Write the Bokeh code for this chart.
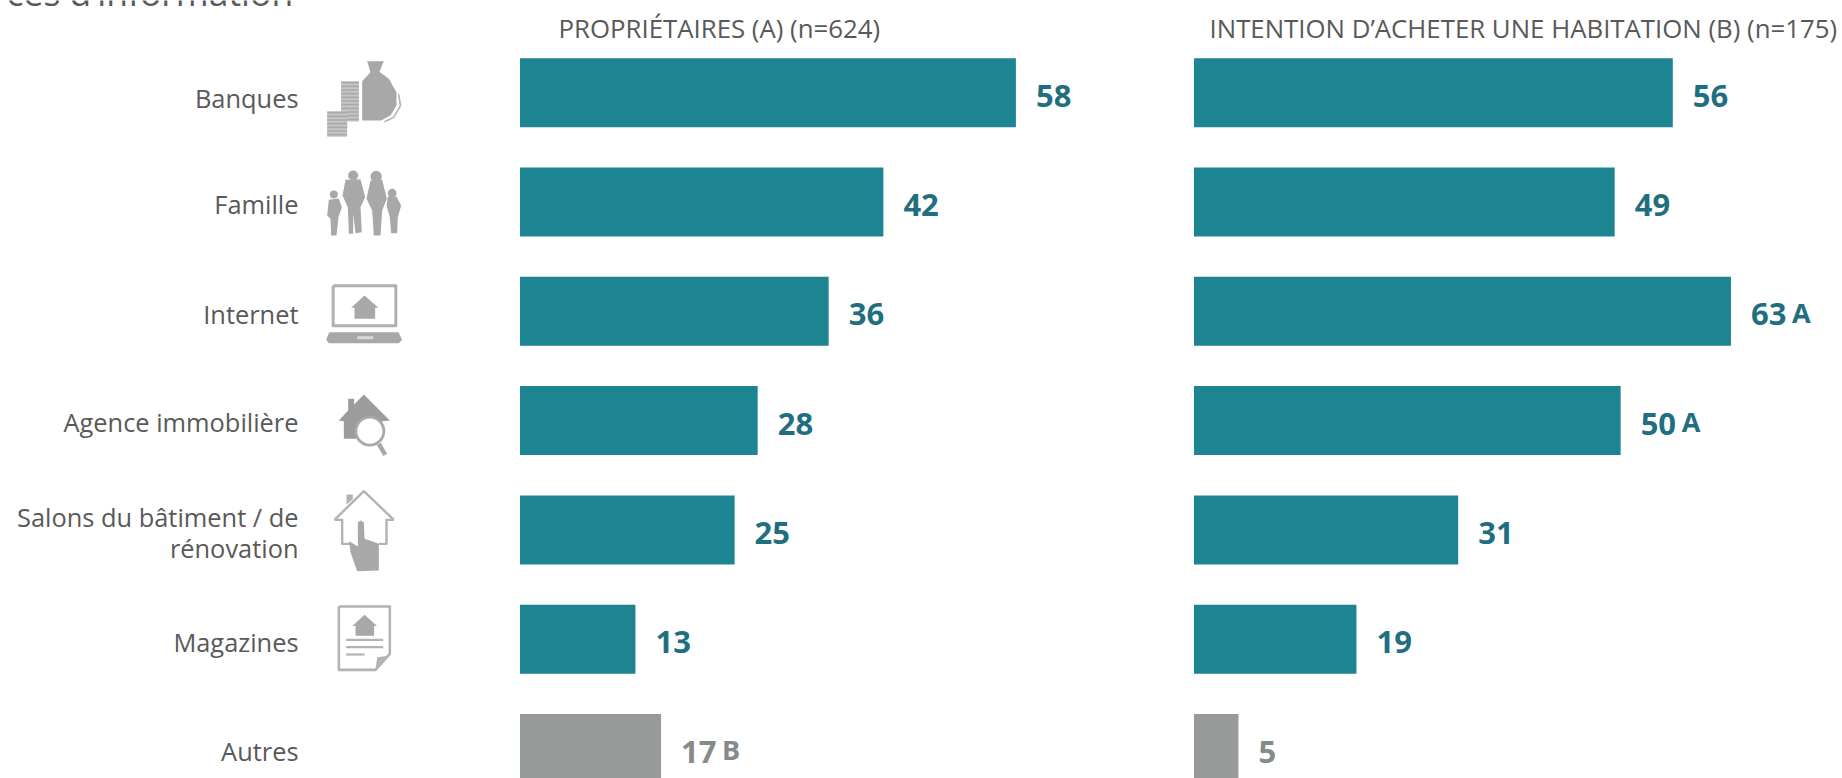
from bokeh.plotting import figure
from bokeh.models import Range1d
from bokeh.embed import file_html
from bokeh.resources import INLINE
from bokeh.core.properties import value

categories = ["Banques", "Famille", "Internet", "Agence immobilière",
              "Salons du bâtiment / de\nrénovation", "Magazines", "Autres"]
owners_labels = [58, 42, 36, 28, 25, 13, 17]
owners_bars = [58.0, 42.5, 36.1, 27.8, 25.1, 13.5, 16.5]
owners_marks = ["", "", "", "", "", "", "B"]
buyers_labels = [56, 49, 63, 50, 31, 19, 5]
buyers_bars = [56.0, 49.2, 62.8, 49.9, 30.9, 19.0, 5.2]
buyers_marks = ["", "", "A", "A", "", "", ""]
bar_colors = ["#1d8592"] * 6 + ["#969b9a"]
text_colors = ["#1f6f80"] * 6 + ["#858a8a"]
header_left = "PROPRIÉTAIRES (A) (n=624)"
header_right = "INTENTION D’ACHETER UNE HABITATION (B) (n=175)"
title_tail = "ces d’information"

W, H = 1842, 778
SCALE = 8.55
ROW = 109.3
Y0 = 92.2
X_L = 519.5
X_R = 1193.5
FONT = value("Open Sans")
TXT = "#595959"
ICON = "#a8a8a8"

p = figure(width=W, height=H, output_backend="svg", toolbar_location=None,
           x_range=Range1d(-X_L / SCALE, (W - X_L) / SCALE),
           y_range=Range1d((H - Y0) / ROW, -Y0 / ROW),
           x_axis_location=None, y_axis_location=None,
           min_border=0)
p.outline_line_color = None
p.grid.visible = False
p.background_fill_color = "#ffffff"
p.extra_x_ranges = {"right": Range1d(-X_R / SCALE, (W - X_R) / SCALE), "px": Range1d(0, W)}
p.extra_y_ranges = {"py": Range1d(H, 0)}

rows = list(range(len(categories)))

p.hbar(y=rows, left=0, right=owners_bars, height=0.631, fill_color=bar_colors, line_color=None)
p.hbar(y=rows, left=0, right=buyers_bars, height=0.631, fill_color=bar_colors, line_color=None,
       x_range_name="right")


def labels(xs, vals, marks, rng=None):
    kw = {"x_range_name": rng} if rng else {}
    p.text(x=xs, y=rows, text=[str(v) for v in vals], text_font=FONT, text_font_style="bold",
           text_font_size="31px", text_color=text_colors, text_align="left", text_baseline="middle",
           x_offset=20, y_offset=3, **kw)
    idx = [i for i, m in enumerate(marks) if m]
    p.text(x=[xs[i] for i in idx], y=idx, text=[marks[i] for i in idx], text_font=FONT,
           text_font_style="bold", text_font_size="27px", text_color=[text_colors[i] for i in idx],
           text_align="left", text_baseline="middle", x_offset=61, y_offset=1, **kw)


labels(owners_bars, owners_labels, owners_marks)
labels(buyers_bars, buyers_labels, buyers_marks, "right")

# category labels, right aligned next to the icons
px = {"x_range_name": "px", "y_range_name": "py"}
p.text(x=[298] * len(rows), y=[97, 203.5, 313.5, 421, 532, 641, 750], text=categories, text_font=FONT,
       text_font_size="25.4px", text_color=TXT, text_align="right", text_baseline="middle",
       text_line_height=0.9, **px)
p.text(x=[558, 1209], y=[27, 27], text=[header_left, header_right], text_font=FONT,
       text_font_size="25.8px", text_color=TXT, text_align="left", text_baseline="middle", **px)
p.text(x=[6], y=[-9], text=[title_tail], text_font=FONT, text_font_size="35.5px", text_color=TXT,
       text_align="left", text_baseline="alphabetic", **px)


# ---- pictograms (drawn in page-pixel space, 1/3 px local units) ----
def pts(o, coords):
    return [o[0] + c[0] / 3 for c in coords], [o[1] + c[1] / 3 for c in coords]


def fill(o, coords, color=ICON):
    xs, ys = pts(o, coords)
    p.patch(xs, ys, fill_color=color, line_color=None, **px)


def line(o, coords, w=2.4, color=ICON):
    xs, ys = pts(o, coords)
    p.line(xs, ys, line_color=color, line_width=w, line_join="round", **px)


def dot(o, c, d, color=ICON):
    xs, ys = pts(o, [c])
    p.scatter(xs, ys, size=d / 3, fill_color=color, line_color=None, **px)


def box(o, x0, y0, x1, y1, color=ICON):
    fill(o, [(x0, y0), (x1, y0), (x1, y1), (x0, y1)], color)


def mini_house(o, ax, ay, k=1.0):
    fill(o, [(ax, ay), (ax + 42 * k, ay + 37 * k), (ax + 32 * k, ay + 37 * k), (ax + 32 * k, ay + 70 * k),
             (ax - 30 * k, ay + 70 * k), (ax - 30 * k, ay + 37 * k), (ax - 40 * k, ay + 37 * k)])


A = (310, 50)
# money bag
fill(A, [(170, 32), (220, 32), (207, 64), (235, 85), (258, 125), (258, 165), (240, 195), (212, 210),
         (155, 210), (155, 92), (180, 65)])
line(A, [(264, 130), (270, 165), (250, 200), (222, 214)], 1.6, "#b5b5b5")
for top, l, r, n in [(92, 92, 145, 11), (182, 50, 110, 7)]:
    box(A, l, top, r, top + n * 11, "#c6c6c6")
    for i in range(n):
        box(A, l, top + i * 11 + 2, r, top + i * 11 + 7, "#a9a9a9")
# family
for c, d in [((70, 432), 24), ((128, 375), 30), ((197, 378), 34), ((245, 428), 26)]:
    dot(A, c, d)
fill(A, [(55, 448), (85, 444), (94, 470), (84, 500), (78, 555), (62, 555), (60, 505), (50, 495)])
fill(A, [(105, 388), (150, 386), (164, 440), (150, 470), (154, 545), (135, 548), (128, 490), (128, 550),
         (115, 550), (112, 470), (96, 435)])
fill(A, [(180, 390), (215, 388), (229, 445), (215, 480), (210, 555), (190, 555), (185, 480), (168, 445)])
fill(A, [(232, 438), (258, 438), (272, 465), (262, 500), (260, 548), (242, 548), (238, 500), (228, 465)])

B = (310, 270)
# laptop
line(B, [(68, 46), (256, 46), (256, 166), (68, 166), (68, 46)], 3, "#b0b0b0")
mini_house(B, 162, 75)
fill(B, [(56, 185), (264, 185), (275, 208), (265, 218), (55, 218), (47, 208)])
box(B, 140, 197, 188, 206, "#d8d8d8")
# agency house and magnifier
fill(B, [(113, 385), (131, 385), (131, 402), (160, 372), (238, 450), (215, 452), (215, 480), (135, 505),
         (100, 505), (100, 452), (85, 450), (113, 420)], "#9c9c9c")
xs, ys = pts(B, [(178, 482)])
p.scatter(xs, ys, size=28, fill_color="#ffffff", line_color="#a8a8a8", line_width=2.8, **px)
line(B, [(205, 520), (224, 553)], 4.5)

C = (310, 480)
# pointing hand on a house
line(C, [(72, 118), (160, 32), (250, 118)], 2.4, "#b3b3b3")
line(C, [(72, 118), (95, 118), (95, 190), (120, 190)], 2.4, "#b3b3b3")
line(C, [(250, 118), (228, 118), (228, 190), (205, 190)], 2.4, "#b3b3b3")
fill(C, [(108, 42), (127, 42), (127, 56), (108, 72)], "#b3b3b3")
fill(C, [(142, 125), (150, 120), (160, 125), (162, 175), (205, 190), (205, 270), (140, 272), (120, 215),
         (116, 182), (142, 198)])
# magazine page
line(C, [(85, 378), (238, 378), (238, 520), (195, 568), (85, 568), (85, 378)], 2.6, "#b3b3b3")
mini_house(C, 162, 403, 0.9)
for y0, x1 in [(478, 218), (500, 218), (522, 162)]:
    line(C, [(107, y0), (x1, y0)], 2.2, "#b3b3b3")
fill(C, [(195, 568), (200, 530), (238, 525)], "#b3b3b3")

open("out.html", "w").write(file_html(p, INLINE))
